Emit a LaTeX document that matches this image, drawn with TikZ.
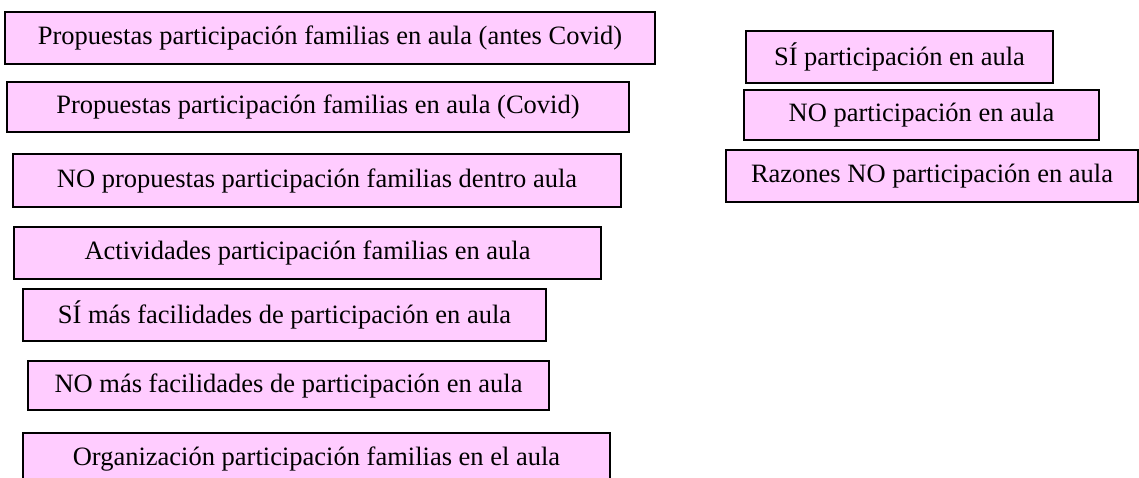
\documentclass[tikz,border=0pt]{standalone}
\usepackage{fontspec}
\setmainfont{Liberation Serif}
\definecolor{boxpink}{HTML}{FFCCFF}
\begin{document}
\begin{tikzpicture}[x=1pt,y=-1pt,
  cat/.style={draw=black,line width=1.6pt,fill=boxpink,rectangle,inner sep=0pt,
    font=\fontsize{26.5}{30}\selectfont}]
\clip (0,0) rectangle (1139,477);
\fill[white] (0,0) rectangle (1139,477);
\node[cat,minimum width=650pt,minimum height=52pt] (antes) at (330,38) {Propuestas participación familias en aula (antes Covid)};
\node[cat,minimum width=622pt,minimum height=50pt] (covid) at (318,107) {Propuestas participación familias en aula (Covid)};
\node[cat,minimum width=608pt,minimum height=53pt] (nopro) at (317,180.5) {NO propuestas participación familias dentro aula};
\node[cat,minimum width=587pt,minimum height=52pt] (activ) at (307.5,253) {Actividades participación familias en aula};
\node[cat,minimum width=523pt,minimum height=52pt] (sifac) at (284.5,315) {SÍ más facilidades de participación en aula};
\node[cat,minimum width=521pt,minimum height=49pt] (nofac) at (288.5,385.5) {NO más facilidades de participación en aula};
\node[cat,minimum width=587pt,minimum height=52pt] (organ) at (316.5,459) {Organización participación familias en el aula};
\node[cat,minimum width=307pt,minimum height=52pt] (sipar) at (899.5,57) {SÍ participación en aula};
\node[cat,minimum width=355pt,minimum height=50pt] (nopar) at (921.5,115) {NO participación en aula};
\node[cat,minimum width=412pt,minimum height=52pt] (razon) at (932,176) {Razones NO participación en aula};
\end{tikzpicture}
\end{document}
